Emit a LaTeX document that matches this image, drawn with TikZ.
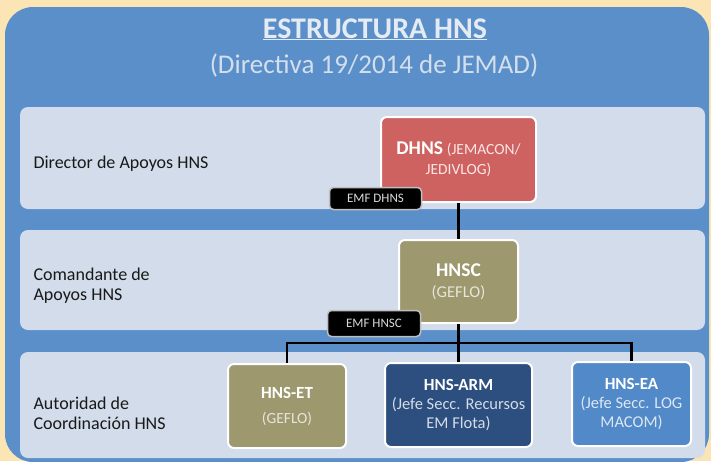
\documentclass[tikz,border=0pt]{standalone}
\usepackage{fontspec}
\setmainfont{Carlito}
\usepackage{xcolor}

\begin{document}
\begin{tikzpicture}[x=1pt,y=-1pt,
  hnsbox/.style={rectangle,rounded corners=6pt,draw=white,line width=2pt,inner sep=0pt,align=center,text=white,font=\fontsize{16.5}{19}\selectfont},
  emfbox/.style={rectangle,rounded corners=4pt,fill=black,draw=black!25,line width=1.5pt,inner sep=0pt,text=black!15,font=\fontsize{13}{15}\selectfont},
  bandlabel/.style={anchor=west,align=left,text=black!90,font=\fontsize{18}{20.5}\selectfont},
  enlace/.style={line width=2.5pt,black}]
\definecolor{cream}{HTML}{FCE5B5}
\definecolor{panel}{HTML}{5B8FC9}
\definecolor{band}{HTML}{D2DCEA}
\definecolor{titletext}{HTML}{E4EBF3}
\definecolor{subtext}{HTML}{D3DFEC}
\definecolor{dhnsred}{HTML}{CD6261}
\definecolor{olive}{HTML}{9E986E}
\definecolor{navy}{HTML}{2C4F7F}
\definecolor{eablue}{HTML}{5289C8}
\useasboundingbox (0,0) rectangle (711,461);
\fill[cream] (0,0) rectangle (711,461);
\fill[panel,rounded corners=28pt] (5,7) rectangle (709,462);
  \foreach \top/\bot in {107/209,230/330,352/458}
  {  \fill[band,rounded corners=8pt] (20,\top) rectangle (705,\bot);}
\node[anchor=base,text=titletext,font=\fontsize{30}{36}\selectfont\bfseries] (titulo) at (375,38) {\underline{ESTRUCTURA HNS}};
\node[anchor=base,text=subtext,font=\fontsize{27}{32}\selectfont] (directiva) at (374,73) {(Directiva 19/2014 de JEMAD)};
% niveles
\node[bandlabel,anchor=base west] (nivel1) at (30,168) {Director de Apoyos HNS};
\node[bandlabel] (nivel2) at (30,285.5) {Comandante de\\Apoyos HNS};
\node[bandlabel] (nivel3) at (30,413.5) {Autoridad de\\Coordinación HNS};
% cajas
\node[hnsbox,fill=dhnsred,minimum width=155,minimum height=85] (dhns) at (458.5,159.5)
  {\textcolor{white}{\fontsize{19.5}{22}\selectfont\bfseries DHNS} \textcolor{red!10}{\fontsize{15.5}{19}\selectfont(JEMACON/}\\[1pt]\textcolor{red!10}{\fontsize{15.5}{19}\selectfont JEDIVLOG)}};
\node[hnsbox,fill=olive,minimum width=119,minimum height=83] (hnsc) at (458.5,281.5)
  {{\fontsize{19.5}{22}\selectfont\bfseries HNSC}\\[2pt]\textcolor{olive!25}{(GEFLO)}};
\node[hnsbox,fill=olive,minimum width=118,minimum height=84] (hnset) at (287,406)
  {{\fontsize{17}{19}\selectfont\bfseries HNS-ET}\\[6pt]\textcolor{olive!25}{\fontsize{15.5}{18}\selectfont(GEFLO)}};
\node[hnsbox,fill=navy,minimum width=147,minimum height=84] (hnsarm) at (458.5,405)
  {{\fontsize{17}{19}\selectfont\bfseries HNS-ARM}\\\textcolor{navy!20}{\fontsize{16.5}{18}\selectfont(Jefe Secc. Recursos}\\\textcolor{navy!20}{\fontsize{16.5}{18}\selectfont EM Flota)}};
\node[hnsbox,fill=eablue,minimum width=119,minimum height=84] (hnsea) at (631.5,404)
  {{\fontsize{17}{19}\selectfont\bfseries HNS-EA}\\\textcolor{eablue!20}{\fontsize{16.5}{18}\selectfont(Jefe Secc. LOG}\\\textcolor{eablue!20}{\fontsize{16.5}{18}\selectfont MACOM)}};
\node[emfbox,minimum width=92,minimum height=22] (emfdhns) at (375.5,198.5) {EMF DHNS};
\node[emfbox,minimum width=93,minimum height=26] (emfhnsc) at (374,323.5) {EMF HNSC};
% enlaces
\coordinate (bus) at (458.5,343);
\draw[enlace] (dhns) -- (hnsc);
\draw[enlace] (hnsc) -- (hnsarm);
\draw[enlace] (hnset.north) |- (bus) -| (hnsea.north);
\end{tikzpicture}
\end{document}
